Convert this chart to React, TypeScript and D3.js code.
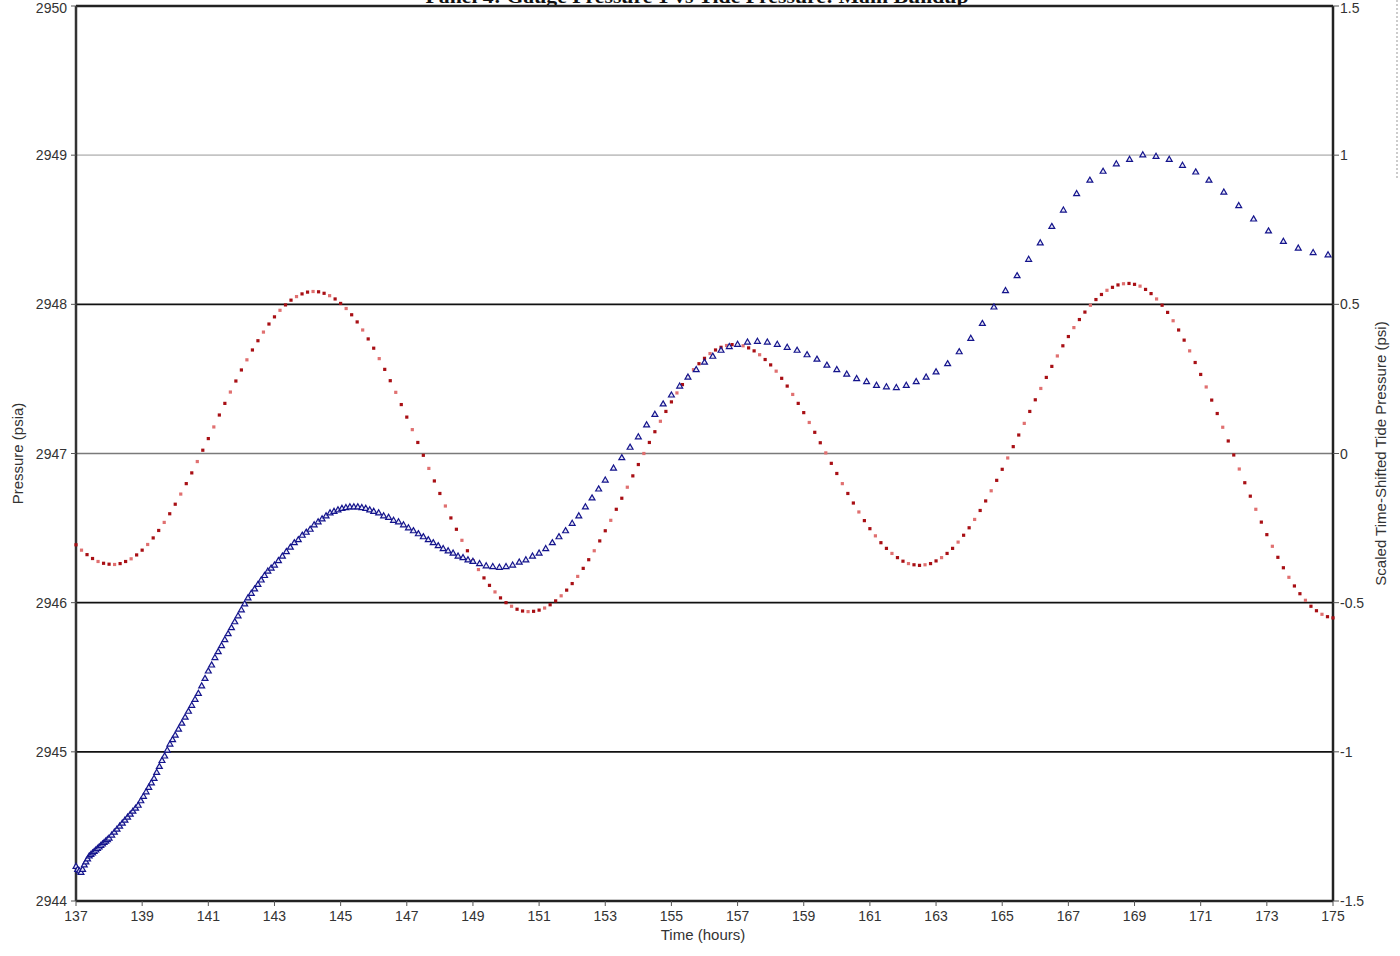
import React from 'react';
import * as d3 from 'd3';

// gauge pressure (psia), sampled on the gauge's log schedule
const gaugeHours = [
  137.00, 137.05, 137.10, 137.15, 137.20, 137.25, 137.30, 137.35, 137.40, 137.45, 137.50,
  137.55, 137.60, 137.65, 137.70, 137.75, 137.80, 137.85, 137.90, 137.95, 138.00,
  138.08, 138.16, 138.24, 138.32, 138.40, 138.48, 138.56, 138.64, 138.72, 138.80, 138.88,
  138.96, 139.04, 139.12, 139.20, 139.28, 139.36, 139.44, 139.52, 139.60, 139.68, 139.76,
  139.84, 139.92, 140.00,
  140.1, 140.2, 140.3, 140.4, 140.5, 140.6, 140.7, 140.8, 140.9, 141.0, 141.1, 141.2, 141.3,
  141.4, 141.5, 141.6, 141.7, 141.8, 141.9, 142.0, 142.1, 142.2, 142.3, 142.4, 142.5, 142.6,
  142.7, 142.8, 142.9, 143.0,
  143.12, 143.24, 143.36, 143.48, 143.60, 143.72, 143.84, 143.96, 144.08, 144.20, 144.32,
  144.44, 144.56, 144.68, 144.80, 144.92, 145.04, 145.16, 145.28, 145.40, 145.52, 145.64,
  145.76, 145.88, 146.00,
  146.15, 146.30, 146.45, 146.60, 146.75, 146.90, 147.05, 147.20, 147.35, 147.50, 147.65,
  147.80, 147.95, 148.10, 148.25, 148.40, 148.55, 148.70, 148.85, 149.00,
  149.2, 149.4, 149.6, 149.8, 150.0, 150.2, 150.4, 150.6, 150.8, 151.0, 151.2, 151.4, 151.6,
  151.8, 152.0, 152.2, 152.4, 152.6, 152.8, 153.0,
  153.25, 153.50, 153.75, 154.00, 154.25, 154.50, 154.75, 155.00, 155.25, 155.50, 155.75,
  156.00, 156.25, 156.50, 156.75, 157.00,
  157.3, 157.6, 157.9, 158.2, 158.5, 158.8, 159.1, 159.4, 159.7, 160.0, 160.3, 160.6, 160.9,
  161.2, 161.5, 161.8, 162.1, 162.4, 162.7, 163.0,
  163.35, 163.70, 164.05, 164.40, 164.75, 165.10, 165.45, 165.80, 166.15, 166.50, 166.85,
  167.25, 167.65, 168.05, 168.45, 168.85, 169.25, 169.65, 170.05, 170.45, 170.85, 171.25,
  171.70, 172.15, 172.60, 173.05, 173.50, 173.95, 174.40, 174.85,
];
const gaugePsia = [
  2944.23, 2944.21, 2944.20, 2944.19, 2944.21, 2944.24, 2944.26, 2944.28, 2944.30, 2944.31, 2944.32,
  2944.33, 2944.34, 2944.35, 2944.36, 2944.37, 2944.38, 2944.39, 2944.40, 2944.41, 2944.42,
  2944.44, 2944.46, 2944.48, 2944.50, 2944.52, 2944.54, 2944.56, 2944.58, 2944.60, 2944.62, 2944.64,
  2944.67, 2944.70, 2944.73, 2944.76, 2944.79, 2944.82, 2944.86, 2944.90, 2944.94, 2944.97, 2945.01,
  2945.05, 2945.08, 2945.11,
  2945.15, 2945.19, 2945.23, 2945.27, 2945.31, 2945.35, 2945.39, 2945.44, 2945.49, 2945.54, 2945.58, 2945.63, 2945.67,
  2945.71, 2945.75, 2945.79, 2945.83, 2945.87, 2945.91, 2945.95, 2945.99, 2946.03, 2946.06, 2946.09, 2946.12, 2946.15,
  2946.18, 2946.21, 2946.23, 2946.25,
  2946.28, 2946.31, 2946.34, 2946.37, 2946.40, 2946.42, 2946.45, 2946.47, 2946.49, 2946.52, 2946.54,
  2946.56, 2946.58, 2946.60, 2946.61, 2946.62, 2946.63, 2946.635, 2946.64, 2946.64, 2946.64, 2946.635,
  2946.63, 2946.62, 2946.61,
  2946.60, 2946.58, 2946.57, 2946.55, 2946.54, 2946.52, 2946.50, 2946.48, 2946.46, 2946.44, 2946.42,
  2946.40, 2946.38, 2946.36, 2946.345, 2946.33, 2946.31, 2946.30, 2946.285, 2946.275,
  2946.26, 2946.245, 2946.24, 2946.235, 2946.24, 2946.25, 2946.27, 2946.285, 2946.31, 2946.33, 2946.36, 2946.40, 2946.44,
  2946.48, 2946.53, 2946.58, 2946.64, 2946.70, 2946.76, 2946.82,
  2946.90, 2946.97, 2947.04, 2947.11, 2947.19, 2947.26, 2947.33, 2947.39, 2947.45, 2947.51, 2947.56,
  2947.61, 2947.65, 2947.69, 2947.715, 2947.73,
  2947.745, 2947.75, 2947.745, 2947.73, 2947.71, 2947.69, 2947.66, 2947.63, 2947.59, 2947.56, 2947.53, 2947.50, 2947.48,
  2947.455, 2947.445, 2947.44, 2947.455, 2947.48, 2947.51, 2947.545,
  2947.60, 2947.68, 2947.77, 2947.87, 2947.98, 2948.09, 2948.19, 2948.30, 2948.41, 2948.52, 2948.63,
  2948.74, 2948.83, 2948.89, 2948.94, 2948.97, 2949.00, 2948.99, 2948.97, 2948.93, 2948.885, 2948.83,
  2948.75, 2948.66, 2948.57, 2948.49, 2948.42, 2948.375, 2948.345, 2948.33,
];

// scaled time-shifted tide pressure (psi), one reading every 10 minutes from 137 h
const tideStartHour = 137;
const tideStepMinutes = 10;
const tidePsi = [
  -0.306, -0.324, -0.339, -0.352, -0.362, -0.368, -0.371, -0.372, -0.369, -0.362, -0.353,
  -0.340, -0.324, -0.305, -0.283, -0.258, -0.231, -0.202, -0.170, -0.136, -0.101, -0.065,
  -0.027, 0.011, 0.050, 0.089, 0.129, 0.168, 0.206, 0.243, 0.280, 0.314, 0.347, 0.378,
  0.407, 0.434, 0.458, 0.480, 0.498, 0.514, 0.526, 0.535, 0.541, 0.543,
  0.542, 0.537, 0.529, 0.518, 0.503, 0.486, 0.465, 0.441, 0.414, 0.384, 0.353, 0.318,
  0.282, 0.244, 0.205, 0.164, 0.122, 0.080, 0.037, -0.006, -0.050, -0.092, -0.134, -0.176,
  -0.216, -0.254, -0.291, -0.326, -0.359, -0.389, -0.417, -0.442, -0.464, -0.484, -0.500,
  -0.512, -0.522, -0.528, -0.530,
  -0.529, -0.525, -0.518, -0.507, -0.494, -0.477, -0.458, -0.436, -0.412, -0.385, -0.356,
  -0.326, -0.293, -0.259, -0.224, -0.187, -0.150, -0.113, -0.075, -0.037, 0.000, 0.037,
  0.073, 0.108, 0.141, 0.173, 0.203, 0.231, 0.257, 0.281, 0.301, 0.319, 0.335, 0.347,
  0.356, 0.362, 0.365,
  0.364, 0.361, 0.354, 0.344, 0.331, 0.315, 0.297, 0.276, 0.252, 0.226, 0.198, 0.168,
  0.137, 0.104, 0.071, 0.036, 0.002, -0.033, -0.067, -0.101, -0.134, -0.166, -0.196,
  -0.225, -0.252, -0.276, -0.299, -0.318, -0.335, -0.349, -0.361, -0.369, -0.373, -0.375,
  -0.373, -0.369, -0.360, -0.349, -0.335, -0.318, -0.297, -0.274, -0.249, -0.221, -0.191,
  -0.159, -0.125, -0.090, -0.053, -0.015, 0.023, 0.062, 0.101, 0.141, 0.180, 0.218,
  0.255, 0.292, 0.327, 0.361, 0.392, 0.422, 0.449, 0.474, 0.497, 0.516, 0.533, 0.547,
  0.557, 0.565, 0.569,
  0.570, 0.567, 0.561, 0.550, 0.536, 0.518, 0.497, 0.473, 0.445, 0.414, 0.380, 0.344,
  0.305, 0.265, 0.223, 0.179, 0.134, 0.088, 0.042, -0.005, -0.052, -0.098, -0.143, -0.187,
  -0.230, -0.272, -0.311, -0.348, -0.383, -0.415, -0.444, -0.470, -0.492, -0.512, -0.527,
  -0.539, -0.547, -0.551,
];

const hourTicks = d3.range(137, 176, 2);
const psiaTicks = [2944, 2945, 2946, 2947, 2948, 2949, 2950];
const tideTicks = [-1.5, -1, -0.5, 0, 0.5, 1, 1.5];
const gridLines = [
  { v: 2945, color: '#111' },
  { v: 2946, color: '#111' },
  { v: 2947, color: '#7a7a7a' },
  { v: 2948, color: '#111' },
  { v: 2949, color: '#c4c4c4' },
];

const W = 1400;
const H = 956;
const font = "'Liberation Sans Narrow', 'Liberation Sans', Arial, sans-serif";

export default function App() {
  const x = d3.scaleLinear().domain([137, 175]).range([76, 1333]);
  const yL = d3.scaleLinear().domain([2944, 2950]).range([901, 6]);
  const yR = d3.scaleLinear().domain([-1.5, 1.5]).range([901, 6]);
  const tri = d3.symbol().type(d3.symbolTriangle).size(15)() as string;

  const tide = tidePsi.map((v, i) => ({ t: tideStartHour + (i * tideStepMinutes) / 60, v }));
  const gauge = gaugeHours.map((t, i) => ({ t, v: gaugePsia[i] }));
  // keep the top tick labels just inside the picture
  const labelY = (py: number) => Math.max(py + 5, 13);

  return (
    <svg width={W} height={H} style={{ position: 'absolute', left: 0, top: 0, background: '#fff' }}>
      <rect width={W} height={H} fill="#fff" />

      {/* title, mostly clipped off the top as in the source */}
      <text x={697} y={3} textAnchor="middle" fontFamily="'Liberation Serif', serif" fontWeight="bold"
        fontSize={19} textLength={543} lengthAdjust="spacingAndGlyphs" fill="#111">
        Panel 4: Gauge Pressure 1 vs Tide Pressure: Main Buildup
      </text>

      {/* legend box edge on the far right */}
      <line x1={1397} x2={1397} y1={0} y2={178} stroke="#999" strokeDasharray="2,2" />

      {gridLines.map(g => (
        <line key={g.v} x1={x(137)} x2={x(175)} y1={yL(g.v)} y2={yL(g.v)} stroke={g.color} strokeWidth={1.6} />
      ))}

      {/* frame */}
      <line x1={x(137)} x2={x(175)} y1={yL(2950)} y2={yL(2950)} stroke="#222" strokeWidth={2.5} />
      <line x1={x(137)} x2={x(175)} y1={yL(2944)} y2={yL(2944)} stroke="#222" strokeWidth={2.5} />
      <line x1={x(137)} x2={x(137)} y1={yL(2950)} y2={yL(2944)} stroke="#333" strokeWidth={2.5} />
      <line x1={x(175)} x2={x(175)} y1={yL(2950)} y2={yL(2944)} stroke="#222" strokeWidth={2.5} />

      {/* tide series */}
      {tide.map((d, i) => (
        <rect key={'r' + i} x={x(d.t) - 1.6} y={yR(d.v) - 1.6} width={3.2} height={3.2}
          fill={i % 3 === 1 ? '#e07070' : '#a80f14'} />
      ))}

      {/* gauge series */}
      {gauge.map((d, i) => (
        <path key={'b' + i} d={tri} transform={`translate(${x(d.t)},${yL(d.v)})`}
          fill="#e8e8f6" stroke="#14148c" strokeWidth={1.2} />
      ))}

      {/* left axis */}
      {psiaTicks.map(v => (
        <g key={v}>
          <line x1={x(137) - 5} x2={x(137)} y1={yL(v)} y2={yL(v)} stroke="#555" />
          <text x={67} y={labelY(yL(v))} textAnchor="end" fontFamily={font} fontSize={14} fill="#333">{v}</text>
        </g>
      ))}
      <text transform={`translate(23,${(yL(2944) + yL(2950)) / 2}) rotate(-90)`} textAnchor="middle"
        fontFamily={font} fontSize={15} fill="#333">Pressure (psia)</text>

      {/* bottom axis */}
      {hourTicks.map(t => (
        <g key={t}>
          <line x1={x(t)} x2={x(t)} y1={yL(2944)} y2={yL(2944) + 5} stroke="#555" />
          <text x={x(t)} y={921} textAnchor="middle" fontFamily={font} fontSize={14} fill="#333">{t}</text>
        </g>
      ))}
      <text x={703} y={940} textAnchor="middle" fontFamily={font} fontSize={15} fill="#333">Time (hours)</text>

      {/* right axis */}
      {tideTicks.map(v => (
        <g key={v}>
          <line x1={x(175)} x2={x(175) + 6} y1={yR(v)} y2={yR(v)} stroke="#555" />
          <text x={1340} y={labelY(yR(v))} fontFamily={font} fontSize={14} fill="#333">{v}</text>
        </g>
      ))}
      <text transform={`translate(1386,${(yR(-1.5) + yR(1.5)) / 2}) rotate(-90)`} textAnchor="middle"
        fontFamily={font} fontSize={15} fill="#333">Scaled Time-Shifted Tide Pressure (psi)</text>
    </svg>
  );
}
